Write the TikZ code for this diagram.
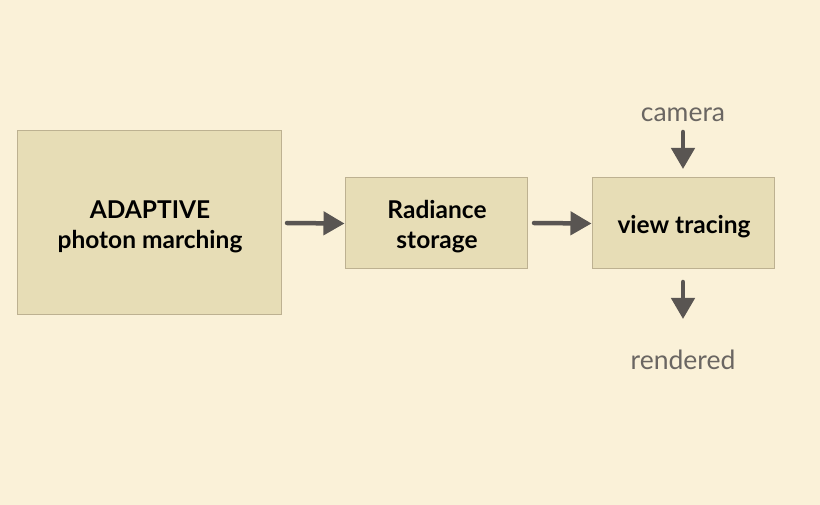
\documentclass[tikz,border=0pt]{standalone}
\usepackage{fontspec}
\setmainfont{Lato}
\usetikzlibrary{arrows.meta}
\definecolor{bg}{HTML}{FAF1D8}
\definecolor{boxfill}{HTML}{E7DDB6}
\definecolor{boxline}{HTML}{BDB191}
\definecolor{arr}{HTML}{595552}
\definecolor{lbl}{HTML}{6A6662}
\tikzset{
  procbox/.style={draw=boxline, line width=1pt, fill=boxfill, inner sep=0pt},
  boxtext/.style={align=center, font=\fontsize{24.5}{30}\selectfont\bfseries, text=black, inner sep=0pt},
  flow/.style={draw=arr, line width=4.5pt, -{Triangle[length=21pt,width=23pt]}, line cap=round},
  extlabel/.style={text=lbl, font=\fontsize{26.5}{30}\selectfont, inner sep=0pt}
}
\begin{document}
\begin{tikzpicture}[x=1pt,y=-1pt]
\fill[bg] (0,0) rectangle (820,505);
\useasboundingbox (0,0) rectangle (820,505);
\node[procbox, minimum width=264pt, minimum height=184pt] (b1) at (149,223) {};
\node[procbox, minimum width=182pt, minimum height=91pt] (b2) at (436,223.5) {};
\node[procbox, minimum width=182pt, minimum height=91pt] (b3) at (683,223.5) {};
\node[boxtext] (t1) at (150,227) {ADAPTIVE\\photon marching};
\node[boxtext] (t2) at (437,227) {Radiance\\storage};
\node[boxtext] (t3) at (684,227) {view tracing};
\node[extlabel] (cam) at (683,115) {camera};
\node[extlabel] (ren) at (683,360) {rendered};
\coordinate (a1s) at (287,223);
\coordinate (a2s) at (534,223);
\coordinate (a3s) at (683,132);
\coordinate (a3e) at (683,169);
\coordinate (a4s) at (683,282);
\coordinate (a4e) at (683,319);
\draw[flow] (a1s) -- (b2.west);
\draw[flow] (a2s) -- (b3.west);
\draw[flow] (a3s) -- (a3e);
\draw[flow] (a4s) -- (a4e);
\end{tikzpicture}
\end{document}
